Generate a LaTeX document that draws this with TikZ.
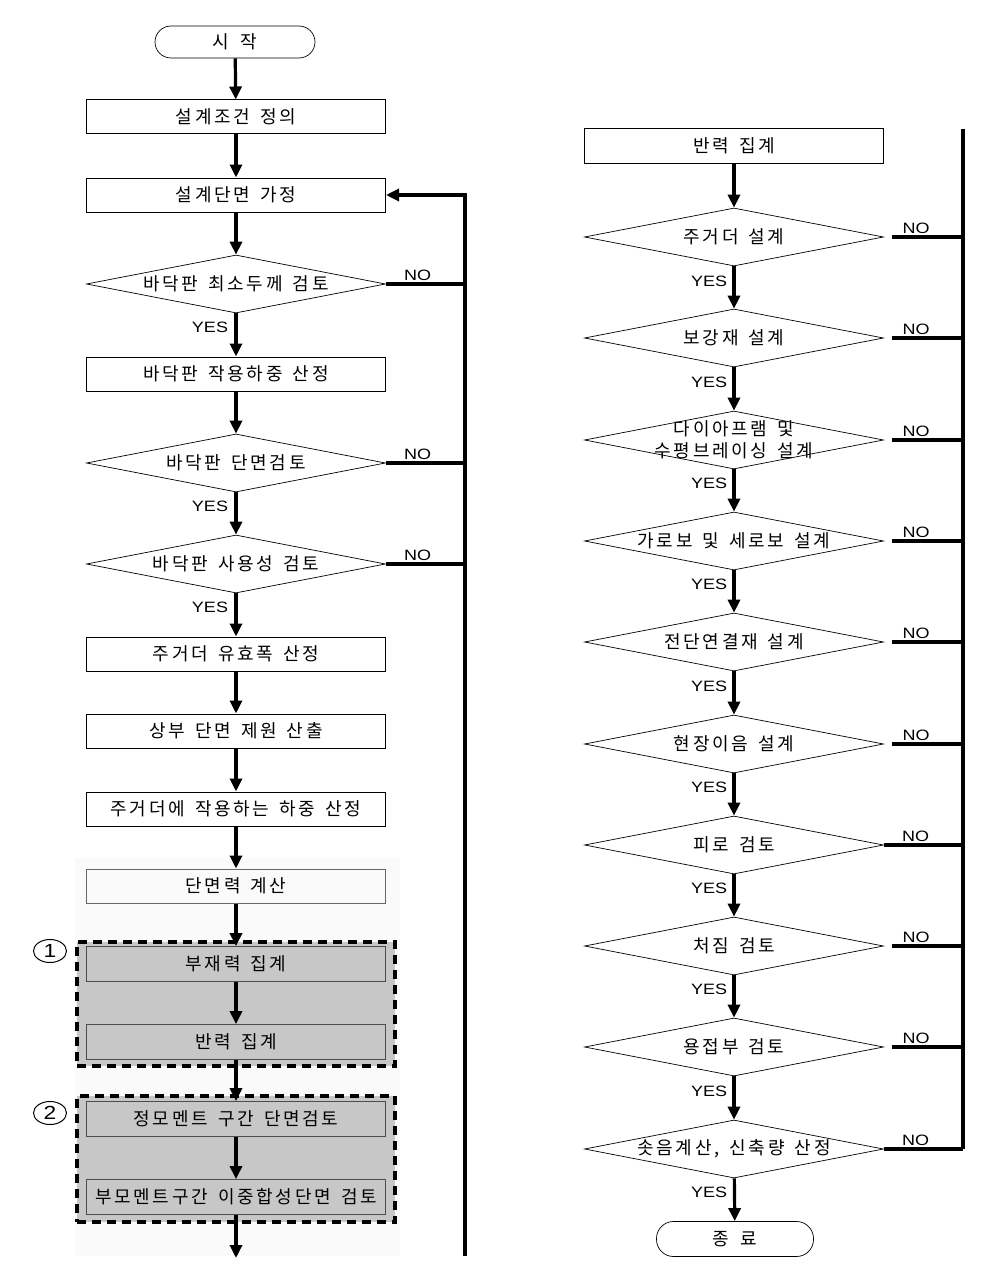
\documentclass[tikz,border=0pt]{standalone}
\usepackage{fontspec}
\newfontfamily\kr[LetterSpace=15,WordSpace=1.5]{Noto Sans CJK KR}
\newfontfamily\lat[FakeStretch=1.2]{Liberation Sans}
\usetikzlibrary{shapes.geometric,arrows.meta}
\begin{document}
\begin{tikzpicture}[x=1pt,y=-1pt,
  ktext/.style={font=\kr\fontsize{18}{22}\selectfont},
  proc/.style={draw, rectangle, line width=1pt, minimum width=299pt, minimum height=34pt, inner sep=0pt, ktext},
  gproc/.style={proc, fill=black!22, draw=black!70, line width=0.8pt, minimum height=35pt},
  dec/.style={draw, diamond, line width=0.7pt, minimum width=299pt, minimum height=58pt, inner sep=0pt,
    label={[ktext, align=center]center:#1}},
  term/.style={draw, rectangle, rounded corners=16pt, line width=0.7pt, minimum width=160pt, minimum height=32pt, ktext},
  flow/.style={line width=3.2pt, -{Triangle[length=13pt,width=12pt]}},
  plain/.style={line width=3.2pt},
  grp/.style={draw, line width=3.6pt, dash pattern=on 9pt off 6pt, fill=black!22, minimum width=318pt, inner sep=0pt},
  yes/.style={font=\lat\fontsize{15}{17}\selectfont, inner sep=1.5pt},
  circ/.style={draw, ellipse, minimum width=33pt, minimum height=23pt, inner sep=0pt, line width=1pt, font=\lat\fontsize{19}{19}\selectfont}
]
\useasboundingbox (0,0) rectangle (992,1271);
\fill[white] (0,0) rectangle (992,1271);
% faint pasted region
\fill[black!2] (75,858) rectangle (400,1256);

% ---------- left column ----------
\node[term] (start) at (235,42) {시\hspace{12pt}작};
\node[proc] (b1) at (236,117) {설계조건 정의};
\node[proc] (b2) at (236,195) {설계단면 가정};
\node[dec={바닥판 최소두께 검토}] (d1) at (236,284) {};
\node[proc] (b3) at (236,374) {바닥판 작용하중 산정};
\node[dec={바닥판 단면검토}] (d2) at (236,463) {};
\node[dec={바닥판 사용성 검토}] (d3) at (236,564) {};
\node[proc] (b4) at (236,654) {주거더 유효폭 산정};
\node[proc] (b5) at (236,731) {상부 단면 제원 산출};
\node[proc] (b6) at (236,809) {주거더에 작용하는 하중 산정};
\node[proc, draw=black!60] (b7) at (236,886) {단면력 계산};

\node[grp, minimum height=124pt] (g1) at (236,1004) {};
\node[grp, minimum height=126pt] (g2) at (236,1159) {};
\node[gproc] (g1a) at (236,964) {부재력 집계};
\node[gproc] (g1b) at (236,1042) {반력 집계};
\node[gproc] (g2a) at (236,1119) {정모멘트 구간 단면검토};
\node[gproc] (g2b) at (236,1197) {부모멘트구간 이중합성단면 검토};
\node[circ] (c1) at (50,951) {1};
\node[circ] (c2) at (50,1113) {2};
\coordinate (lend) at (236,1258);

\draw[flow] (start) -- (b1);
\draw[flow] (b1) -- (b2);
\draw[flow] (b2) -- (d1);
\draw[flow] (d1) -- (b3);
\draw[flow] (b3) -- (d2);
\draw[flow] (d2) -- (d3);
\draw[flow] (d3) -- (b4);
\draw[flow] (b4) -- (b5);
\draw[flow] (b5) -- (b6);
\draw[flow] (b6) -- (b7);
\draw[flow] (b7) -- (g1a);
\draw[flow] (g1a) -- (g1b);
\draw[flow] (g1b) -- (g2a);
\draw[flow] (g2a) -- (g2b);
\draw[flow] (g2b) -- (lend);

\node[yes] (y1) at (210,327) {YES};
\node[yes] (y2) at (210,506) {YES};
\node[yes] (y3) at (210,607) {YES};

\coordinate (fbb) at (465,1256);
\draw[flow] (fbb) -- (fbb |- b2.east) -- (b2.east);
\draw[plain] (d1.east) -- (d1.east -| fbb) node[pos=0.4, above, yes] (n1) {NO};
\draw[plain] (d2.east) -- (d2.east -| fbb) node[pos=0.4, above, yes] (n2) {NO};
\draw[plain] (d3.east) -- (d3.east -| fbb) node[pos=0.4, above, yes] (n3) {NO};

% ---------- right column ----------
\node[proc] (rb) at (734,146) {반력 집계};
\node[dec={주거더 설계}] (r1) at (734,237) {};
\node[dec={보강재 설계}] (r2) at (734,338) {};
\node[dec={다이아프램 및\\수평브레이싱 설계}] (r3) at (734,440) {};
\node[dec={가로보 및 세로보 설계}] (r4) at (734,541) {};
\node[dec={전단연결재 설계}] (r5) at (734,642) {};
\node[dec={현장이음 설계}] (r6) at (734,744) {};
\node[dec={피로 검토}] (r7) at (734,845) {};
\node[dec={처짐 검토}] (r8) at (734,946) {};
\node[dec={용접부 검토}] (r9) at (734,1047) {};
\node[dec={솟음계산, 신축량 산정}] (r10) at (734,1149) {};
\node[term, minimum width=157pt, minimum height=35pt, rounded corners=17pt] (end) at (735,1239) {종\hspace{12pt}료};

\draw[flow] (rb) -- (r1);
\draw[flow] (r1) -- (r2);
\draw[flow] (r2) -- (r3);
\draw[flow] (r3) -- (r4);
\draw[flow] (r4) -- (r5);
\draw[flow] (r5) -- (r6);
\draw[flow] (r6) -- (r7);
\draw[flow] (r7) -- (r8);
\draw[flow] (r8) -- (r9);
\draw[flow] (r9) -- (r10);
\draw[flow] (r10) -- (end);

\node[yes] (ry1) at (709,281) {YES};
\node[yes] (ry2) at (709,382) {YES};
\node[yes] (ry3) at (709,483) {YES};
\node[yes] (ry4) at (709,584) {YES};
\node[yes] (ry5) at (709,686) {YES};
\node[yes] (ry6) at (709,787) {YES};
\node[yes] (ry7) at (709,888) {YES};
\node[yes] (ry8) at (709,989) {YES};
\node[yes] (ry9) at (709,1091) {YES};
\node[yes] (ry10) at (709,1192) {YES};

\coordinate (rtop) at (963,129);
\draw[plain] (rtop) -- (rtop |- r10.east);
\draw[plain] ([xshift=8pt]r1.east) -- (r1.east -| rtop) node[pos=0.34, above, yes] (m1) {NO};
\draw[plain] ([xshift=8pt]r2.east) -- (r2.east -| rtop) node[pos=0.34, above, yes] (m2) {NO};
\draw[plain] ([xshift=8pt]r3.east) -- (r3.east -| rtop) node[pos=0.34, above, yes] (m3) {NO};
\draw[plain] ([xshift=8pt]r4.east) -- (r4.east -| rtop) node[pos=0.34, above, yes] (m4) {NO};
\draw[plain] ([xshift=8pt]r5.east) -- (r5.east -| rtop) node[pos=0.34, above, yes] (m5) {NO};
\draw[plain] ([xshift=8pt]r6.east) -- (r6.east -| rtop) node[pos=0.34, above, yes] (m6) {NO};
\draw[plain] (r7.east) -- (r7.east -| rtop) node[pos=0.4, above, yes] (m7) {NO};
\draw[plain] ([xshift=8pt]r8.east) -- (r8.east -| rtop) node[pos=0.34, above, yes] (m8) {NO};
\draw[plain] ([xshift=8pt]r9.east) -- (r9.east -| rtop) node[pos=0.34, above, yes] (m9) {NO};
\draw[plain] (r10.east) -- (r10.east -| rtop) node[pos=0.4, above, yes] (m10) {NO};
\end{tikzpicture}
\end{document}
